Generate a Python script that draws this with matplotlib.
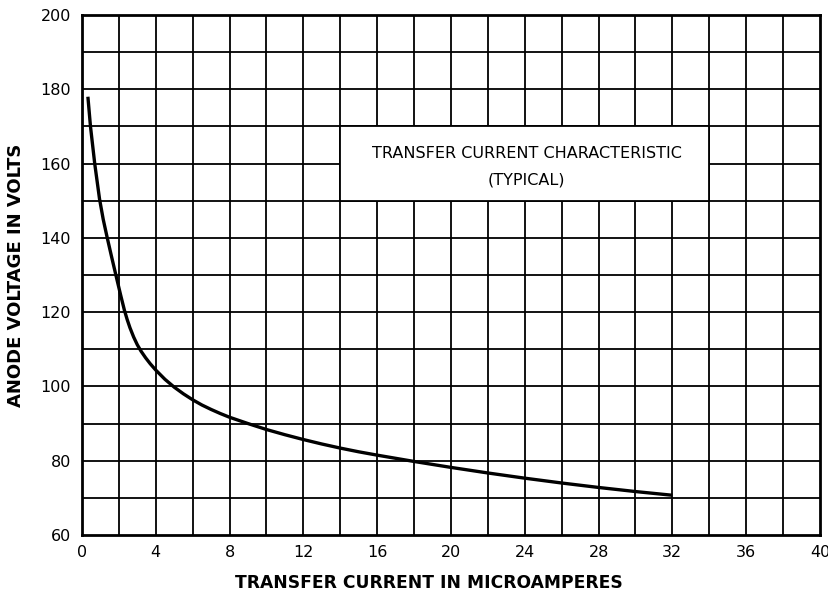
import matplotlib
matplotlib.use("Agg")
import matplotlib.pyplot as plt
import numpy as np

# Data
current_ua = [0.32, 0.46, 0.69, 0.95, 1.15, 1.36, 1.6, 1.86, 2.1, 2.3, 2.45, 2.6, 2.8, 3.0, 3.2, 3.45, 3.7,
              4.0, 4.5, 5.0, 5.5, 6.0, 6.5, 7.0, 7.5, 8.0, 9.0, 10.0, 11.0, 12.0, 13.0, 14.0, 15.0, 16.0,
              18.0, 20.0, 22.0, 24.0, 26.0, 28.0, 30.0, 32.0]
anode_v    = [178, 170, 160, 150.5, 145.0, 140.2, 135.0, 129.5, 124.5, 120.5, 118.0, 115.8, 113.3, 111.2, 109.5, 107.7, 106.1,
              104.4, 101.9, 99.8, 98.0, 96.4, 95.0, 93.8, 92.7, 91.7, 90.0, 88.4, 87.0, 85.7, 84.5, 83.4, 82.4, 81.5,
              79.8, 78.2, 76.7, 75.3, 74.0, 72.8, 71.7, 70.7]

x_ticks = [0, 4, 8, 12, 16, 20, 24, 28, 32, 36, 40]
y_ticks = [60, 80, 100, 120, 140, 160, 180, 200]

fig = plt.figure(figsize=(8.29, 5.93), dpi=100)
ax = fig.add_axes([0.0989, 0.0978, 0.8902, 0.8769])

ax.set_xlim(0, 40)
ax.set_ylim(60, 200)

# grid
for gx in np.arange(2, 40, 2):
    ax.axvline(gx, color="black", lw=1.3, zorder=1)
for gy in np.arange(70, 200, 10):
    ax.axhline(gy, color="black", lw=1.3, zorder=1)

# text box
ax.add_patch(plt.Rectangle((14, 150), 20, 20, facecolor="white", edgecolor="black", lw=1.3, zorder=2))
ax.text(24.1, 162.6, "TRANSFER CURRENT CHARACTERISTIC", ha="center", va="center", fontsize=11.5, zorder=3)
ax.text(24.1, 155.7, "(TYPICAL)", ha="center", va="center", fontsize=11.5, zorder=3)

ax.plot(current_ua, anode_v, color="black", lw=2.4, solid_capstyle="butt",
        solid_joinstyle="round", zorder=4)

ax.set_xticks(x_ticks)
ax.set_yticks(y_ticks)
ax.tick_params(length=0, labelsize=11.5)
ax.tick_params(axis="x", pad=7)
ax.tick_params(axis="y", pad=8)
for s in ax.spines.values():
    s.set_linewidth(2)
    s.set_color("black")

ax.set_xlabel("TRANSFER CURRENT IN MICROAMPERES", fontsize=12.3, fontweight="bold")
ax.xaxis.set_label_coords(0.47, -0.075)
ax.set_ylabel("ANODE VOLTAGE IN VOLTS", fontsize=13, fontweight="bold")
ax.yaxis.set_label_coords(-0.077, 0.5)

fig.savefig("out.png", dpi=100)
